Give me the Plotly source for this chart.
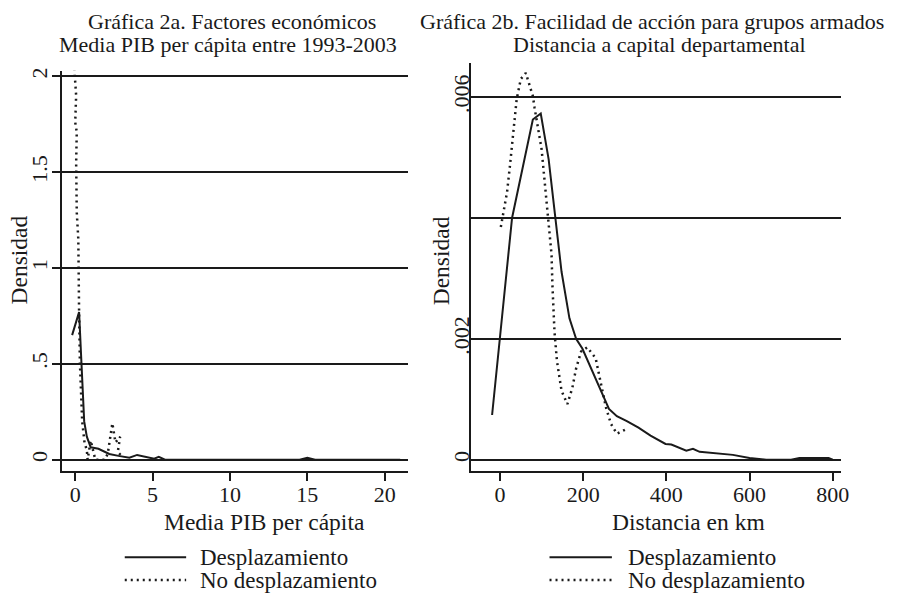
import plotly.graph_objects as go

# ---------------- data ----------------
series_names = ["Desplazamiento", "No desplazamiento"]

# Panel a: Media PIB per cápita
pib_x_desp = [-0.2, 0.25, 0.4, 0.58, 0.75, 1.0, 1.5, 2.2, 2.8, 3.5, 4.0, 4.6, 5.1, 5.4, 5.8,
              7.0, 9.0, 11.0, 13.0, 14.5, 15.0, 15.5, 17.0, 19.0, 21.0]
pib_y_desp = [0.65, 0.77, 0.51, 0.2, 0.12, 0.065, 0.057, 0.03, 0.02, 0.01, 0.025, 0.015, 0.005, 0.015, 0.0,
              0.0, 0.0, 0.0, 0.0, 0.0, 0.01, 0.0, 0.0, 0.0, 0.0]

pib_x_nodesp = [-0.06, 0.06, 0.0, 0.1, 0.06, 0.1, 0.2, 0.25, 0.25, 0.3, 0.4, 0.45, 0.6, 0.75, 0.8,
                1.0, 1.3, 1.9, 2.1, 2.4, 2.6, 2.9, 2.75, 3.0]
pib_y_nodesp = [2.04, 1.9, 1.76, 1.71, 1.55, 1.29, 1.15, 0.95, 0.77, 0.51, 0.33, 0.2, 0.09, 0.05, 0.0,
                0.1, 0.0, 0.0, 0.03, 0.19, 0.09, 0.12, 0.04, 0.02]

# Panel b: Distancia a capital departamental
dist_x_desp = [-19, 0, 29, 79, 98, 117, 133, 148, 167, 183, 198, 218, 243, 262, 281, 305, 333, 362,
               398, 412, 448, 464, 480, 520, 560, 600, 640, 680, 700, 720, 760, 790, 800]
dist_y_desp = [0.00074, 0.002, 0.004, 0.00563, 0.00573, 0.00497, 0.004, 0.00311, 0.00234, 0.002,
               0.00184, 0.00152, 0.00114, 0.00084, 0.00072, 0.00064, 0.00053, 0.0004, 0.00026,
               0.00025, 0.00015, 0.00018, 0.00013, 0.0001, 0.00008, 0.00003, 0.0, 0.0, 0.0,
               0.00003, 0.00003, 0.00003, 0.0]

dist_x_nodesp = [2, 7, 17, 24, 31, 40, 50, 62, 79, 83, 100, 107, 115, 124, 126, 131, 137, 148, 162,
                 174, 183, 195, 210, 230, 243, 255, 267, 281, 305]
dist_y_nodesp = [0.00385, 0.00405, 0.00443, 0.00487, 0.00537, 0.00596, 0.0063, 0.0064, 0.00602,
                 0.00583, 0.00514, 0.00459, 0.00405, 0.00339, 0.0029, 0.00212, 0.00163, 0.00114,
                 0.00092, 0.00119, 0.00151, 0.00179, 0.00186, 0.00168, 0.00125, 0.00086, 0.00059,
                 0.00043, 0.00051]

pib_xticks = [0, 5, 10, 15, 20]
pib_yticks = [0, 0.5, 1, 1.5, 2]
pib_ytext = ["0", ".5", "1", "1.5", "2"]
dist_xticks = [0, 200, 400, 600, 800]
dist_yticks = [0, 0.002, 0.004, 0.006]
dist_ytext = ["0", ".002", "", ".006"]

titles_a = ["Gráfica 2a. Factores económicos", "Media PIB per cápita entre 1993-2003"]
titles_b = ["Gráfica 2b. Facilidad de acción para grupos armados", "Distancia a capital departamental"]
xtitle_a = "Media PIB per cápita"
xtitle_b = "Distancia en km"
ytitle = "Densidad"

# ---------------- styling ----------------
W, H = 911, 598
FONT = "Liberation Serif"
BLACK = "#1a1a1a"


def px(x):
    return x / W


def py(y):
    return 1 - y / H


solid = dict(color=BLACK, width=2)
dotted = dict(color=BLACK, width=2.5, dash="2px,4px")

fig = go.Figure()
fig.add_trace(go.Scatter(x=pib_x_desp, y=pib_y_desp, mode="lines", line=solid,
                         name=series_names[0], xaxis="x", yaxis="y", showlegend=False))
fig.add_trace(go.Scatter(x=pib_x_nodesp, y=pib_y_nodesp, mode="lines", line=dotted,
                         name=series_names[1], xaxis="x", yaxis="y", showlegend=False))
fig.add_trace(go.Scatter(x=dist_x_desp, y=dist_y_desp, mode="lines", line=solid,
                         name=series_names[0], xaxis="x2", yaxis="y2", showlegend=False))
fig.add_trace(go.Scatter(x=dist_x_nodesp, y=dist_y_nodesp, mode="lines", line=dotted,
                         name=series_names[1], xaxis="x2", yaxis="y2", showlegend=False))

tickfont = dict(family=FONT, size=22, color=BLACK)
common_x = dict(showline=True, linecolor=BLACK, linewidth=2, ticks="outside", ticklen=8,
                tickwidth=2, tickcolor=BLACK, showgrid=False, zeroline=False, tickfont=tickfont,
                tickmode="array", ticklabelstandoff=-5)
common_y = dict(showline=True, linecolor=BLACK, linewidth=2, showgrid=True, gridcolor=BLACK,
                gridwidth=2, zeroline=False, tickfont=tickfont, tickangle=-90, tickmode="array")

fig.update_layout(
    width=W, height=H, autosize=False,
    margin=dict(l=0, r=0, t=0, b=0),
    paper_bgcolor="white", plot_bgcolor="white",
    font=dict(family=FONT, color=BLACK),
    xaxis=dict(domain=[px(63), px(412)], range=[-0.83, 21.5], tickvals=pib_xticks,
               anchor="y", **common_x),
    yaxis=dict(domain=[py(470), py(68)], range=[-0.057, 2.03], tickvals=pib_yticks,
               ticktext=pib_ytext, anchor="x", ticks="outside", ticklen=8, tickwidth=2,
               tickcolor=BLACK, ticklabelstandoff=-3, **common_y),
    xaxis2=dict(domain=[px(476), px(849)], range=[-69, 819], tickvals=dist_xticks,
                anchor="y2", **common_x),
    yaxis2=dict(domain=[py(470), py(60)], range=[-0.000181, 0.00657], tickvals=dist_yticks,
                ticktext=dist_ytext, anchor="x2", ticks="", ticklabelstandoff=-8, **common_y),
)

ann = []
tfont = dict(family=FONT, size=22, color=BLACK)
for txt, yy, xx in [(titles_a[0], 19, 234), (titles_a[1], 42, 230),
                    (titles_b[0], 19, 659), (titles_b[1], 42, 666)]:
    ann.append(dict(text=txt, x=px(xx), y=py(yy), xref="paper", yref="paper",
                    xanchor="center", yanchor="middle", showarrow=False, font=tfont))

afont = dict(family=FONT, size=23.5, color=BLACK)
lfont = dict(family=FONT, size=23, color=BLACK)
ann.append(dict(text=xtitle_a, x=px(267), y=py(522), xref="paper", yref="paper",
                xanchor="center", yanchor="middle", showarrow=False, font=afont))
ann.append(dict(text=xtitle_b, x=px(695), y=py(522), xref="paper", yref="paper",
                xanchor="center", yanchor="middle", showarrow=False, font=afont))
ann.append(dict(text=ytitle, x=px(19), y=py(258), xref="paper", yref="paper", textangle=-90,
                xanchor="center", yanchor="middle", showarrow=False, font=afont))
ann.append(dict(text=ytitle, x=px(445), y=py(259), xref="paper", yref="paper", textangle=-90,
                xanchor="center", yanchor="middle", showarrow=False, font=afont))

shapes = []
for x0, x1, xt in [(126, 188, 200), (555, 618, 632)]:
    for (yy, style, name) in [(557, solid, series_names[0]), (580, dotted, series_names[1])]:
        shapes.append(dict(type="line", xref="paper", yref="paper", x0=px(x0), x1=px(x1),
                           y0=py(yy), y1=py(yy), line=style))
        ann.append(dict(text=name, x=px(xt), y=py(yy), xref="paper", yref="paper",
                        xanchor="left", yanchor="middle", showarrow=False, font=lfont))

fig.update_layout(annotations=ann, shapes=shapes)
fig.write_html("out.html", config={"displayModeBar": False},
               post_script="document.body.style.margin='0';document.body.style.padding='0';")
